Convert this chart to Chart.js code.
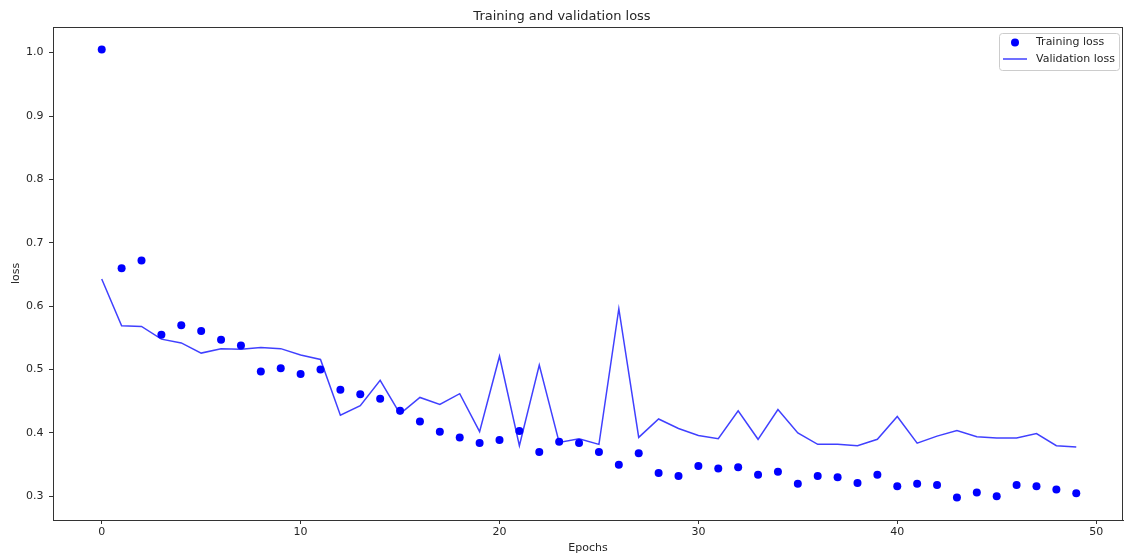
<!DOCTYPE html>
<html>
<head>
<meta charset="utf-8">
<script src="https://cdn.jsdelivr.net/npm/chart.js@4.4.1/dist/chart.umd.min.js"></script>
<style>
  html, body { margin: 0; padding: 0; background: #ffffff; }
  #wrap { width: 1127px; height: 557px; }
</style>
</head>
<body>
<div id="wrap"><canvas id="c" width="1127" height="557"></canvas></div>
<script>
// Epoch indices
const epochs = [0, 1, 2, 3, 4, 5, 6, 7, 8, 9, 10, 11, 12, 13, 14, 15, 16, 17, 18, 19,
  20, 21, 22, 23, 24, 25, 26, 27, 28, 29, 30, 31, 32, 33, 34, 35, 36, 37, 38, 39,
  40, 41, 42, 43, 44, 45, 46, 47, 48, 49];

// Loss per epoch on the training set
const trainingLoss = [1.005, 0.660, 0.672, 0.555, 0.570, 0.561, 0.547, 0.538, 0.497, 0.502,
  0.493, 0.500, 0.468, 0.461, 0.454, 0.435, 0.418, 0.402, 0.393, 0.384,
  0.389, 0.403, 0.370, 0.386, 0.384, 0.370, 0.350, 0.368, 0.337, 0.332,
  0.348, 0.344, 0.346, 0.334, 0.339, 0.320, 0.332, 0.330, 0.321, 0.334,
  0.316, 0.320, 0.318, 0.298, 0.306, 0.300, 0.318, 0.316, 0.311, 0.305];

// Loss per epoch on the validation set
const validationLoss = [0.643, 0.569, 0.568, 0.548, 0.542, 0.526, 0.533, 0.532, 0.535, 0.533,
  0.523, 0.516, 0.428, 0.443, 0.483, 0.430, 0.456, 0.445, 0.462, 0.402,
  0.521, 0.380, 0.507, 0.385, 0.391, 0.382, 0.596, 0.393, 0.422, 0.407,
  0.396, 0.391, 0.435, 0.390, 0.437, 0.400, 0.382, 0.382, 0.380, 0.390,
  0.426, 0.384, 0.395, 0.404, 0.394, 0.392, 0.392, 0.399, 0.380, 0.378];

// Tick positions
const xTicks = [0, 10, 20, 30, 40, 50];
const yTicks = [0.3, 0.4, 0.5, 0.6, 0.7, 0.8, 0.9, 1.0];

const seriesLabels = ['Training loss', 'Validation loss'];

// Axis limits
const xRange = [-2.45, 51.35];
const yRange = [0.2627, 1.0404];

const FONT = 'DejaVu Sans';
const TEXT = '#262626';

// Full rectangular frame around the plotting area
const frame = {
  id: 'frame',
  afterDatasetsDraw(chart) {
    const { ctx, chartArea: a } = chart;
    ctx.save();
    ctx.strokeStyle = '#333333';
    ctx.lineWidth = 1;
    ctx.strokeRect(Math.round(a.left) + 0.5, Math.round(a.top) + 0.5,
      Math.round(a.right - a.left) - 1, Math.round(a.bottom - a.top));
    ctx.restore();
  }
};

// Boxed legend in the upper right corner of the plot
const boxLegend = {
  id: 'boxLegend',
  afterDraw(chart) {
    const { ctx, chartArea: a } = chart;
    const ds = chart.data.datasets;
    ctx.save();
    ctx.font = '11px "' + FONT + '"';
    const tw = Math.max(...ds.map(d => ctx.measureText(d.label).width));
    const w = 37 + tw + 4, h = 37;
    const x = Math.round(a.right - 4 - w), y = Math.round(a.top + 6);
    ctx.beginPath();
    ctx.roundRect(x + 0.5, y + 0.5, w, h, 3);
    ctx.fillStyle = 'rgba(255,255,255,0.8)';
    ctx.fill();
    ctx.strokeStyle = '#cccccc';
    ctx.lineWidth = 1;
    ctx.stroke();

    const rows = [y + 9.5, y + 26];
    // training marker
    ctx.beginPath();
    ctx.arc(x + 16, rows[0], 4, 0, Math.PI * 2);
    ctx.fillStyle = ds[0].backgroundColor;
    ctx.fill();
    // validation line
    ctx.beginPath();
    ctx.moveTo(x + 4, rows[1]);
    ctx.lineTo(x + 28, rows[1]);
    ctx.strokeStyle = ds[1].borderColor;
    ctx.lineWidth = ds[1].borderWidth;
    ctx.stroke();

    ctx.fillStyle = TEXT;
    ctx.textBaseline = 'middle';
    ctx.textAlign = 'left';
    ds.forEach((d, i) => ctx.fillText(d.label, x + 37, rows[i]));
    ctx.restore();
  }
};

new Chart(document.getElementById('c'), {
  type: 'line',
  data: {
    datasets: [
      {
        label: seriesLabels[0],
        data: trainingLoss.map((v, i) => ({ x: epochs[i], y: v })),
        showLine: false,
        pointRadius: 4,
        pointBorderWidth: 0,
        backgroundColor: '#0000ff',
        borderColor: '#0000ff',
        order: 1
      },
      {
        label: seriesLabels[1],
        data: validationLoss.map((v, i) => ({ x: epochs[i], y: v })),
        borderColor: 'rgba(0,0,255,0.75)',
        backgroundColor: 'rgba(0,0,255,0.75)',
        borderWidth: 1.5,
        pointRadius: 0,
        tension: 0,
        fill: false,
        order: 0
      }
    ]
  },
  options: {
    responsive: false,
    animation: false,
    devicePixelRatio: 1,
    layout: { padding: { left: 0, right: 3, top: 0, bottom: 0 } },
    plugins: {
      legend: { display: false },
      tooltip: { enabled: false },
      title: {
        display: true,
        text: 'Training and validation loss',
        color: TEXT,
        font: { family: FONT, size: 13, weight: 'normal' },
        padding: { top: 8.5, bottom: 2.9 }
      }
    },
    scales: {
      x: {
        type: 'linear',
        min: xRange[0],
        max: xRange[1],
        afterBuildTicks(scale) { scale.ticks = xTicks.map(v => ({ value: v })); },
        afterFit(scale) { scale.height = 37; },
        ticks: {
          color: TEXT,
          font: { family: FONT, size: 11 },
          padding: 2,
          maxRotation: 0,
          callback: v => String(v)
        },
        grid: { drawOnChartArea: false, drawTicks: true, tickLength: 4, color: '#333333' },
        border: { display: true, color: '#333333' },
        title: {
          display: true,
          text: 'Epochs',
          color: TEXT,
          font: { family: FONT, size: 11 },
          padding: { top: 0, bottom: 2 }
        }
      },
      y: {
        type: 'linear',
        min: yRange[0],
        max: yRange[1],
        afterBuildTicks(scale) { scale.ticks = yTicks.map(v => ({ value: v })); },
        afterFit(scale) { scale.width = 53; },
        ticks: {
          color: TEXT,
          font: { family: FONT, size: 11 },
          padding: 5.5,
          callback: v => Number(v).toFixed(1)
        },
        grid: { drawOnChartArea: false, drawTicks: true, tickLength: 4, color: '#333333' },
        border: { display: true, color: '#333333' },
        title: {
          display: true,
          text: 'loss',
          color: TEXT,
          font: { family: FONT, size: 11 },
          padding: { top: 9.5, bottom: 0 }
        }
      }
    }
  },
  plugins: [frame, boxLegend]
});
</script>
</body>
</html>
